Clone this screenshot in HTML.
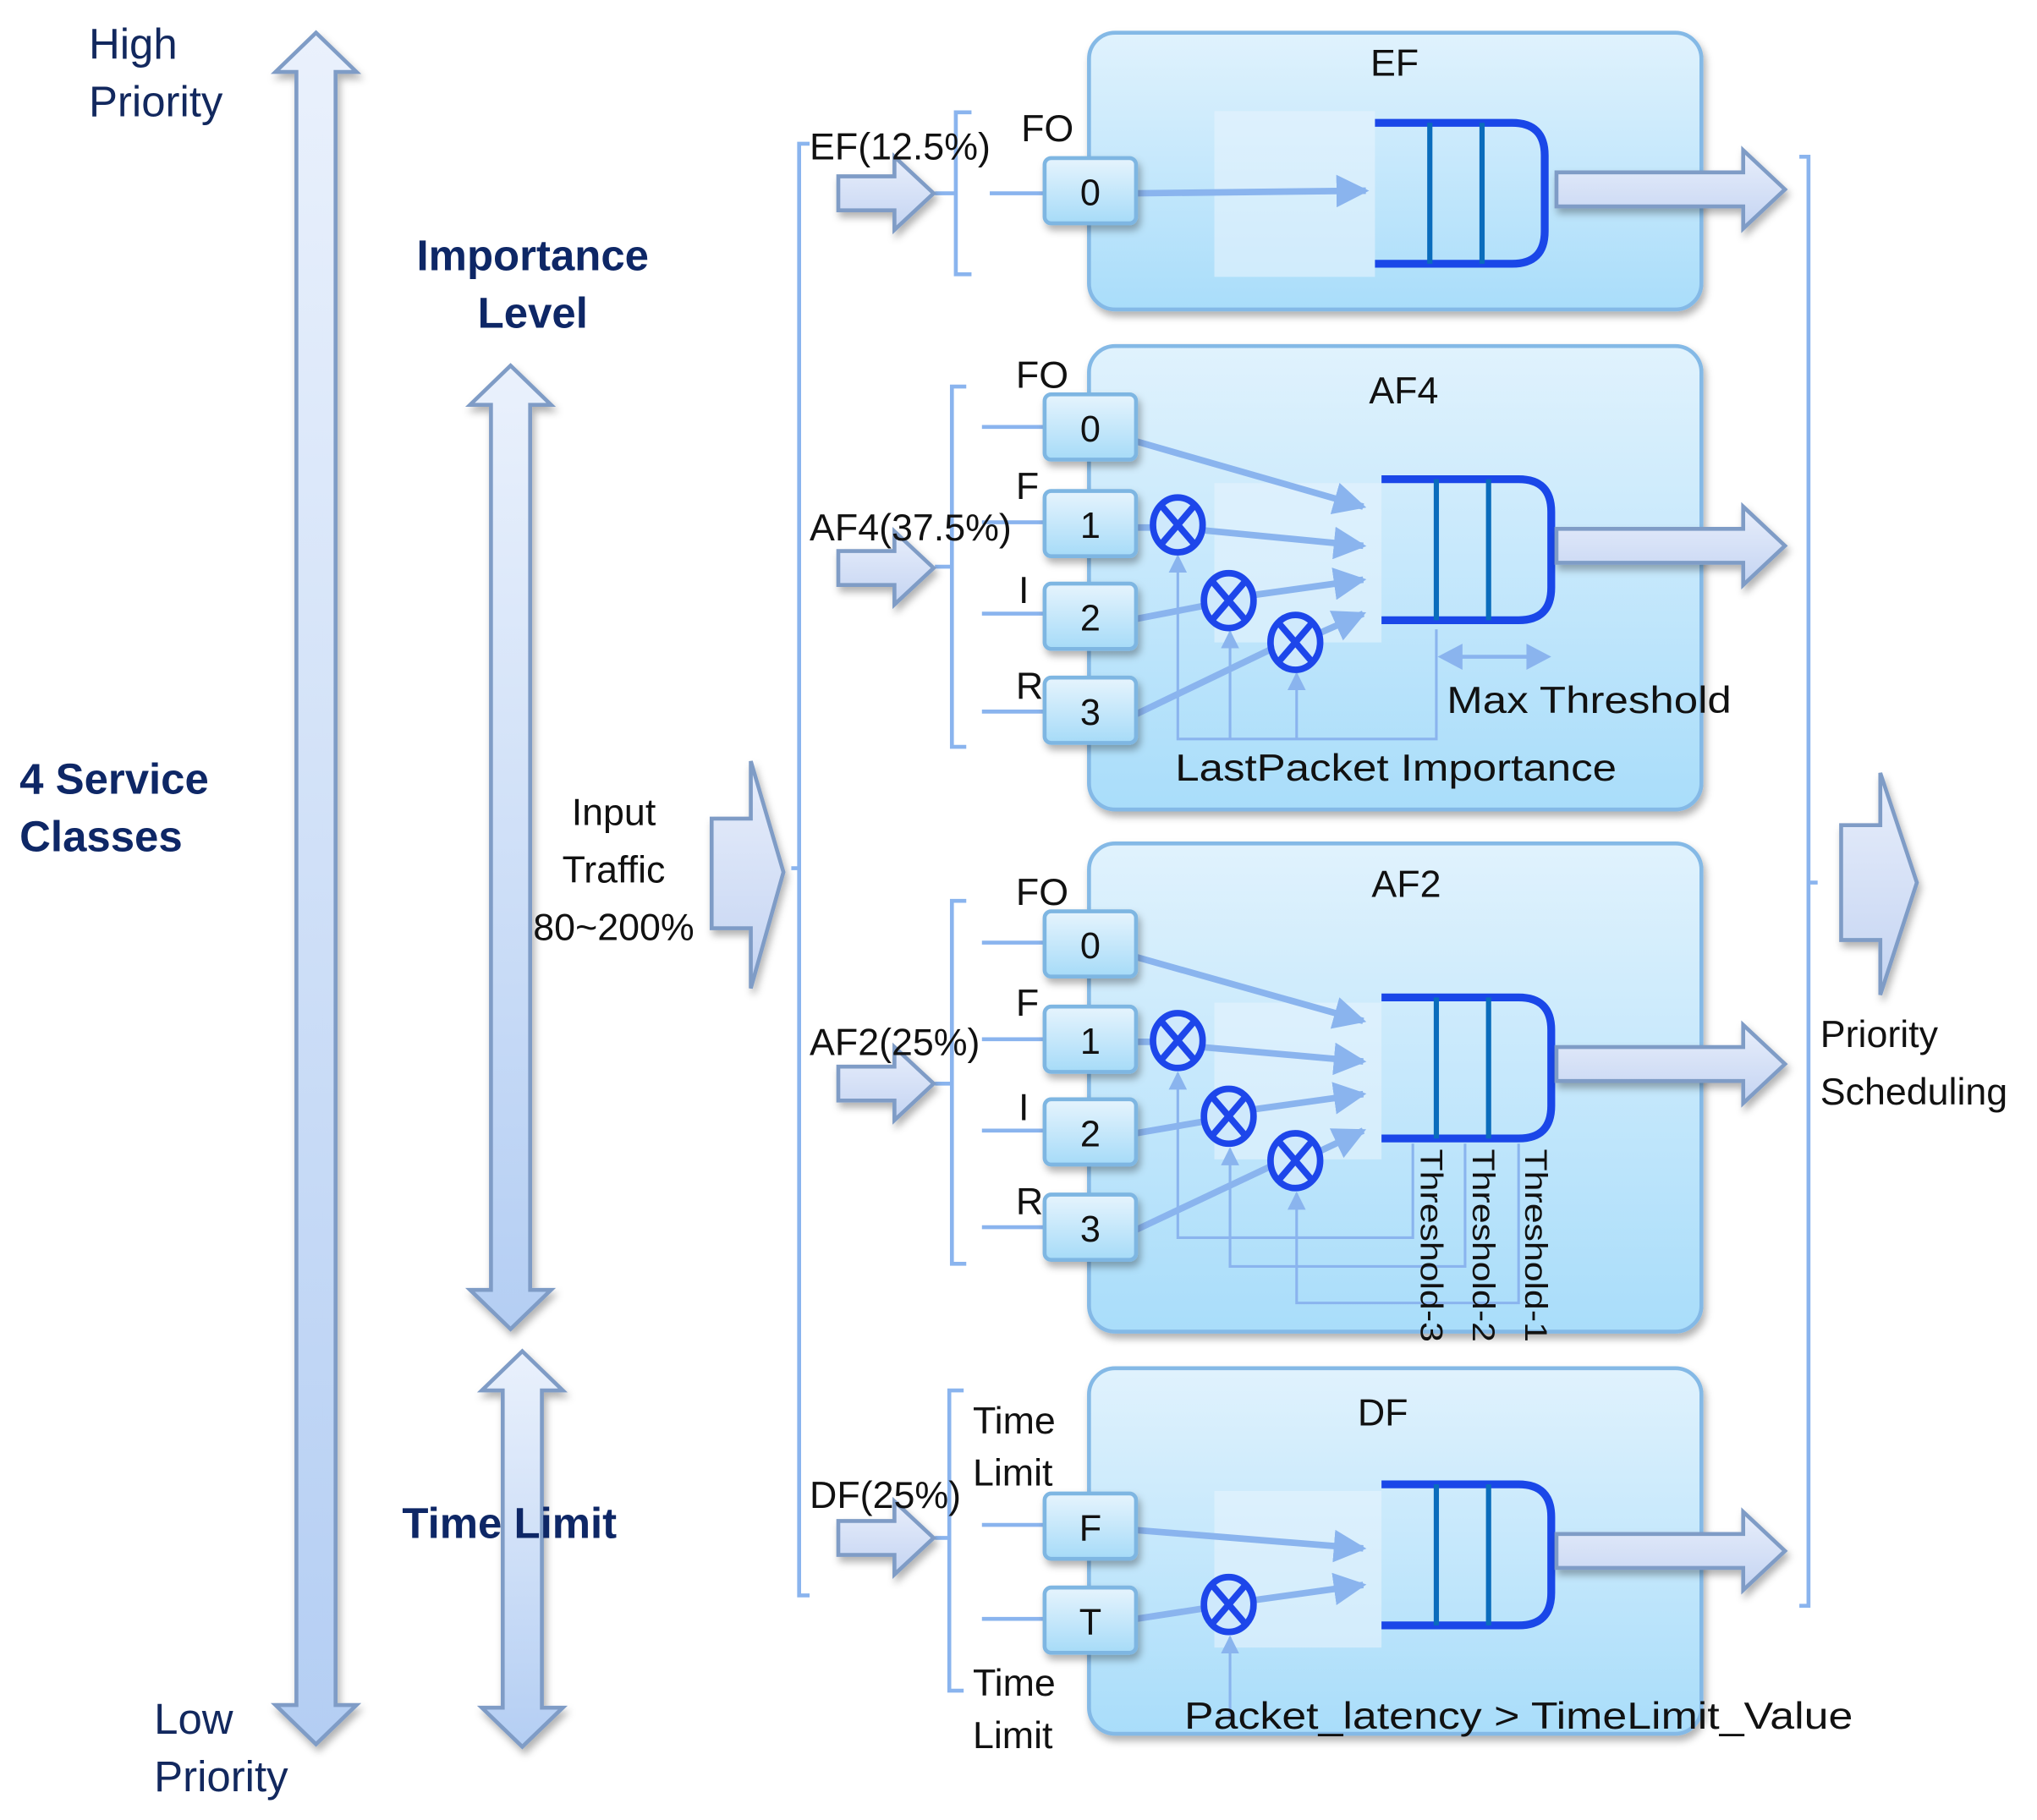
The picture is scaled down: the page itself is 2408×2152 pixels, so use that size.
<!DOCTYPE html>
<html><head><meta charset="utf-8"><style>
html,body{margin:0;padding:0;background:#fff;}
svg{display:block;}
text{font-family:"Liberation Sans",sans-serif;}
</style></head><body>
<svg width="2408" height="2152" viewBox="0 0 1560 1394" xmlns="http://www.w3.org/2000/svg">
<defs>
<linearGradient id="gv" x1="0" y1="0" x2="0" y2="1"><stop offset="0" stop-color="#eaf1fc"/><stop offset="1" stop-color="#b4cef3"/></linearGradient>
<linearGradient id="gh" x1="0" y1="0" x2="0" y2="1"><stop offset="0" stop-color="#e8eefb"/><stop offset="1" stop-color="#c4d4f2"/></linearGradient>
<linearGradient id="gbox" x1="0" y1="0" x2="0" y2="1"><stop offset="0" stop-color="#e0f2fd"/><stop offset="1" stop-color="#a9ddfa"/></linearGradient>
<linearGradient id="gsq" x1="0" y1="0" x2="0" y2="1"><stop offset="0" stop-color="#e6f4fd"/><stop offset="1" stop-color="#a6dbf8"/></linearGradient>
<filter id="sh" x="-10%" y="-10%" width="130%" height="130%"><feDropShadow dx="2" dy="4" stdDeviation="3" flood-color="#000" flood-opacity="0.3"/></filter>
<marker id="ah" viewBox="0 0 10 10" refX="9" refY="5" markerWidth="5" markerHeight="5" orient="auto"><path d="M0,0 L10,5 L0,10 Z" fill="#8ab4ee"/></marker>
<marker id="ah2" viewBox="0 0 10 10" refX="9" refY="5" markerWidth="7" markerHeight="7" orient="auto"><path d="M0,0 L10,5 L0,10 Z" fill="#8ab4ee"/></marker>
<g id="mul"><ellipse cx="0" cy="0" rx="19" ry="21" fill="#cfe9fc" stroke="#1d46ea" stroke-width="5"/><path d="M-12,-14 L12,14 M12,-14 L-12,14" stroke="#1d46ea" stroke-width="5"/></g>
<g id="outarr"><path d="M0,-13 L143,-13 L143,-30 L175,0 L143,30 L143,13 L0,13 Z" fill="url(#gh)" stroke="#7f9cc6" stroke-width="3" filter="url(#sh)"/></g>
<g id="inarr"><path d="M0,-13 L43,-13 L43,-28 L73,0 L43,28 L43,13 L0,13 Z" fill="url(#gh)" stroke="#7f9cc6" stroke-width="3" filter="url(#sh)"/></g>
<g id="queue"><path d="M0,0 L105,0 Q130,0 130,25 L130,83 Q130,108 105,108 L0,108" fill="none" stroke="#1a47e8" stroke-width="6"/><path d="M42,0 V108 M82,0 V108" stroke="#0a6cbc" stroke-width="4"/></g>
</defs>

<path d="M242,25 L273,55 L257,55 L257,1306 L273,1306 L242,1336 L211,1306 L227,1306 L227,55 L211,55 Z" fill="url(#gv)" stroke="#7f9cc6" stroke-width="3" filter="url(#sh)"/>
<path d="M391,280 L422,310 L406,310 L406,988 L422,988 L391,1018 L360,988 L376,988 L376,310 L360,310 Z" fill="url(#gv)" stroke="#7f9cc6" stroke-width="3" filter="url(#sh)"/>
<path d="M400,1035 L431,1065 L415,1065 L415,1308 L431,1308 L400,1338 L369,1308 L385,1308 L385,1065 L369,1065 Z" fill="url(#gv)" stroke="#7f9cc6" stroke-width="3" filter="url(#sh)"/>

<g fill="#12285e" font-size="33">
<text x="68" y="45">High</text><text x="68" y="89">Priority</text>
<text x="118" y="1328">Low</text><text x="118" y="1372">Priority</text>
</g>
<g fill="#0e2766" font-size="33" font-weight="bold">
<text x="15" y="608">4 Service</text><text x="15" y="652">Classes</text>
<text x="408" y="207" text-anchor="middle">Importance</text><text x="408" y="251" text-anchor="middle">Level</text>
<text x="308" y="1178">Time Limit</text>
</g>
<g fill="#111" font-size="29" text-anchor="middle">
<text x="470" y="632">Input</text><text x="470" y="676">Traffic</text><text x="470" y="720">80~200%</text>
</g>

<path d="M545,627 L575,627 L575,583 L600,668 L575,757 L575,711 L545,711 Z" fill="url(#gh)" stroke="#7f9cc6" stroke-width="3" filter="url(#sh)"/>
<path d="M620,110 L612,110 L612,1222 L620,1222 M612,665 L606,665" fill="none" stroke="#8ab4ee" stroke-width="3"/>
<path d="M1378,120 L1385,120 L1385,1230 L1378,1230 M1385,676 L1392,676" fill="none" stroke="#8ab4ee" stroke-width="3"/>
<path d="M1410,632 L1440,632 L1440,592 L1468,676 L1440,762 L1440,720 L1410,720 Z" fill="url(#gh)" stroke="#7f9cc6" stroke-width="3" filter="url(#sh)"/>
<g fill="#111" font-size="29"><text x="1394" y="802">Priority</text><text x="1394" y="846">Scheduling</text></g>

<g stroke="#84b9e6" stroke-width="3" fill="url(#gbox)" filter="url(#sh)">
<rect x="834" y="25" width="469" height="212" rx="20"/>
<rect x="834" y="265" width="469" height="355" rx="20"/>
<rect x="834" y="646" width="469" height="374" rx="20"/>
<rect x="834" y="1048" width="469" height="280" rx="20"/>
</g>
<g fill="#e6f4fd" opacity="0.6">
<rect x="930" y="85" width="123" height="127"/>
<rect x="930" y="370" width="128" height="122"/>
<rect x="930" y="768" width="128" height="120"/>
<rect x="930" y="1142" width="128" height="120"/>
</g>

<g fill="#111" font-size="29" text-anchor="middle">
<text x="1068" y="58">EF</text><text x="1075" y="309">AF4</text><text x="1077" y="687">AF2</text><text x="1059" y="1092">DF</text>
</g>

<g fill="none" stroke="#8ab4ee" stroke-width="3">
<path d="M744,86 L732,86 L732,210 L744,210 M716,148 L732,148 M758,148 L800,148"/>
<path d="M740,296 L729,296 L729,572 L740,572 M716,434 L729,434"/>
<path d="M740,690 L729,690 L729,968 L740,968 M716,830 L729,830"/>
<path d="M738,1065 L727,1065 L727,1295 L738,1295 M716,1178 L727,1178"/>
<path d="M752,327 L800,327 M752,400 L800,400 M752,470 L800,470 M752,545 L800,545"/>
<path d="M752,722 L800,722 M752,796 L800,796 M752,866 L800,866 M752,940 L800,940"/>
<path d="M752,1168 L800,1168 M752,1240 L800,1240"/>
</g>

<use href="#inarr" x="642" y="148"/>
<use href="#inarr" x="642" y="435"/>
<use href="#inarr" x="642" y="830"/>
<use href="#inarr" x="642" y="1178"/>

<g fill="#111" font-size="29">
<text x="620" y="122">EF(12.5%)</text>
<text x="782" y="108">FO</text>
<text x="620" y="414">AF4(37.5%)</text>
<text x="778" y="297">FO</text><text x="778" y="382">F</text><text x="780" y="462">I</text><text x="778" y="535">R</text>
<text x="620" y="808">AF2(25%)</text>
<text x="778" y="693">FO</text><text x="778" y="778">F</text><text x="780" y="858">I</text><text x="778" y="930">R</text>
<text x="620" y="1155">DF(25%)</text>
<text x="745" y="1098">Time</text><text x="745" y="1138">Limit</text>
<text x="745" y="1299">Time</text><text x="745" y="1339">Limit</text>
</g>

<g stroke="#8ab4ee" stroke-width="5" fill="none" marker-end="url(#ah)">
<path d="M870,148 L1046,146"/>
<path d="M870,338 L1044,388"/>
<path d="M920,406 L1044,418"/>
<path d="M958,456 L1044,444"/>
<path d="M1008,486 L1044,470"/>
<path d="M870,733 L1044,782"/>
<path d="M920,802 L1044,813"/>
<path d="M958,850 L1044,838"/>
<path d="M1008,883 L1044,866"/>
<path d="M870,1172 L1044,1186"/>
<path d="M958,1226 L1044,1214"/>
</g>
<g stroke="#8ab4ee" stroke-width="5" fill="none">
<path d="M870,404 L884,404"/>
<path d="M870,474 L922,464"/>
<path d="M870,547 L976,496"/>
<path d="M870,798 L884,798"/>
<path d="M870,868 L922,859"/>
<path d="M870,942 L976,892"/>
<path d="M870,1240 L922,1232"/>
</g>
<g stroke="#8ab4ee" stroke-width="2" fill="none" marker-end="url(#ah2)">
<path d="M1100,482 L1100,566 L902,566 L902,426"/>
<path d="M942,566 L942,484"/>
<path d="M993,566 L993,516"/>
<path d="M1082,876 L1082,948 L902,948 L902,822"/>
<path d="M1122,876 L1122,970 L942,970 L942,880"/>
<path d="M1163,876 L1163,998 L993,998 L993,914"/>
<path d="M942,1318 L942,1254"/>
</g>
<path d="M1112,503 L1176,503" stroke="#8ab4ee" stroke-width="3"/>
<path d="M1101,503 L1120,493 L1120,513 Z M1188,503 L1169,493 L1169,513 Z" fill="#8ab4ee"/>

<use href="#mul" x="902" y="402"/><use href="#mul" x="941" y="460"/><use href="#mul" x="992" y="492"/>
<use href="#mul" x="902" y="797"/><use href="#mul" x="941" y="855"/><use href="#mul" x="992" y="889"/>
<use href="#mul" x="941" y="1229"/>

<use href="#queue" x="1053" y="94"/>
<use href="#queue" x="1058" y="367"/>
<use href="#queue" x="1058" y="764"/>
<use href="#queue" x="1058" y="1137"/>

<use href="#outarr" x="1192" y="145"/>
<use href="#outarr" x="1192" y="418"/>
<use href="#outarr" x="1192" y="815"/>
<use href="#outarr" x="1192" y="1188"/>

<g stroke="#7eb6e2" stroke-width="3" fill="url(#gsq)" filter="url(#sh)">
<rect x="800" y="121" width="70" height="50" rx="5"/>
<rect x="800" y="302" width="70" height="50" rx="5"/>
<rect x="800" y="376" width="70" height="50" rx="5"/>
<rect x="800" y="447" width="70" height="50" rx="5"/>
<rect x="800" y="519" width="70" height="50" rx="5"/>
<rect x="800" y="698" width="70" height="50" rx="5"/>
<rect x="800" y="771" width="70" height="50" rx="5"/>
<rect x="800" y="842" width="70" height="50" rx="5"/>
<rect x="800" y="915" width="70" height="50" rx="5"/>
<rect x="800" y="1144" width="70" height="50" rx="5"/>
<rect x="800" y="1216" width="70" height="50" rx="5"/>
</g>
<g fill="#111" font-size="28" text-anchor="middle">
<text x="835" y="157">0</text>
<text x="835" y="338">0</text><text x="835" y="412">1</text><text x="835" y="483">2</text><text x="835" y="555">3</text>
<text x="835" y="734">0</text><text x="835" y="807">1</text><text x="835" y="878">2</text><text x="835" y="951">3</text>
<text x="835" y="1180">F</text><text x="835" y="1252">T</text>
</g>

<g fill="#111" font-size="29">
<text x="1108" y="546" textLength="218" lengthAdjust="spacingAndGlyphs">Max Threshold</text>
<text x="900" y="598" textLength="338" lengthAdjust="spacingAndGlyphs">LastPacket Importance</text>
<text x="907" y="1324" textLength="512" lengthAdjust="spacingAndGlyphs">Packet_latency &gt; TimeLimit_Value</text>
</g>
<g fill="#111" font-size="24">
<text transform="translate(1088,880) rotate(90)" textLength="148" lengthAdjust="spacingAndGlyphs">Threshold-3</text>
<text transform="translate(1128,880) rotate(90)" textLength="148" lengthAdjust="spacingAndGlyphs">Threshold-2</text>
<text transform="translate(1168,880) rotate(90)" textLength="148" lengthAdjust="spacingAndGlyphs">Threshold-1</text>
</g>
</svg>
</body></html>
